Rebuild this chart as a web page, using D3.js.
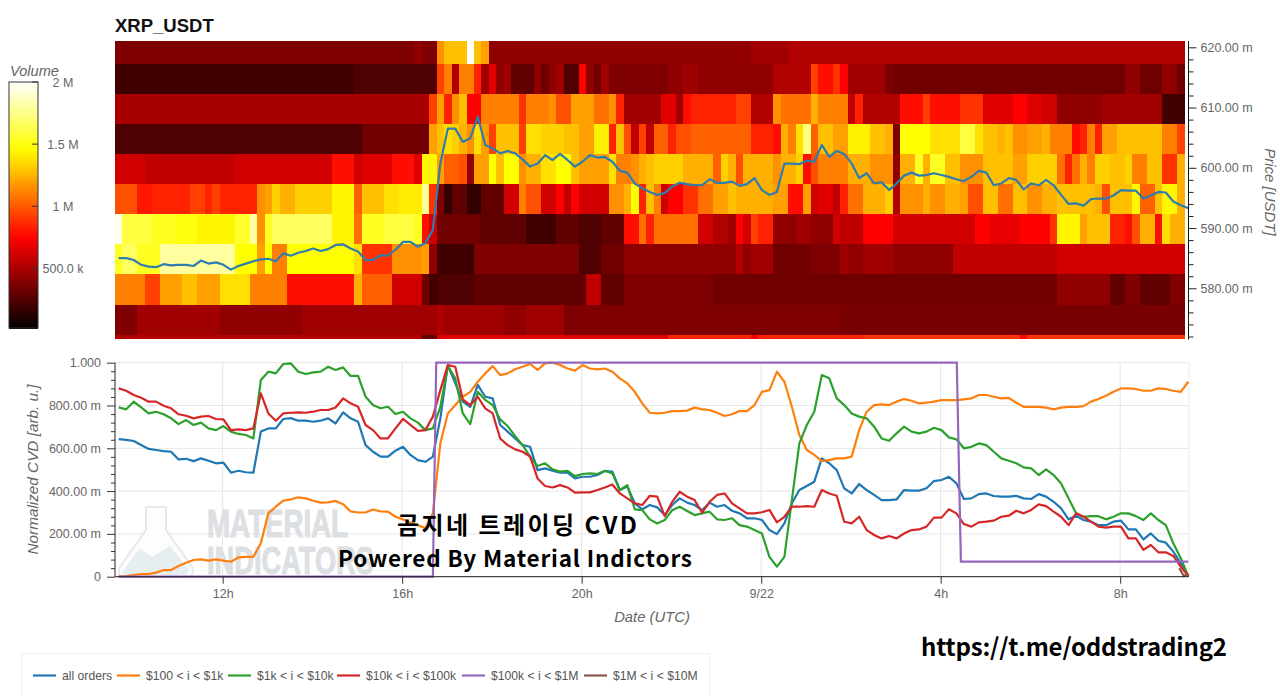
<!DOCTYPE html>
<html><head><meta charset="utf-8">
<script src="https://cdn.jsdelivr.net/npm/d3@7"></script>
<style>html,body{margin:0;padding:0;background:#fff;overflow:hidden}svg{display:block}text{font-family:"Liberation Sans",Arial,sans-serif}</style>
</head><body><svg id="c" width="1280" height="696"></svg>
<script>
const title = "XRP_USDT";
const binEdges = [571.6,572.3,577.3,582.3,587.3,592.3,597.3,602.3,607.3,612.3,617.3,621.05];
// volume runs per price bin, bottom to top: [first 10-min column, volume in thousands]
const vol_571 = [[0,519],[41,292],[43,654],[74,834],[85,743],[86,834],[100,879],[121,743],[122,879]];
const vol_572 = [[0,381],[3,473],[14,428],[25,473],[43,519],[44,473],[52,428],[55,473],[60,381],[97,360]];
const vol_577 = [[0,1104],[4,924],[6,1196],[9,1287],[11,1196],[14,1376],[18,1104],[23,788],[32,1242],[33,1014],[37,610],[41,337],[42,200],[43,247],[48,292],[63,564],[65,292],[68,381],[80,337],[126,428],[133,292],[135,381],[137,292],[141,381]];
const vol_582 = [[0,1532],[1,1663],[3,1532],[6,1800],[16,1465],[19,1196],[20,1465],[21,1104],[23,1465],[32,1376],[33,879],[37,1151],[41,1196],[42,428],[43,200],[48,381],[62,247],[65,337],[68,428],[83,519],[84,428],[85,473],[88,337],[93,381],[97,473],[98,428],[100,473],[104,428],[112,564],[126,610]];
const vol_587 = [[0,1950],[1,1599],[5,1532],[8,1500],[11,1440],[16,1560],[18,1800],[19,1151],[20,1532],[21,1663],[29,1440],[32,1061],[33,1532],[36,1599],[40,1532],[41,788],[42,610],[43,337],[49,292],[55,200],[59,292],[62,247],[65,292],[68,788],[70,1061],[71,834],[72,1061],[78,610],[80,519],[82,473],[83,743],[84,610],[85,924],[86,834],[88,428],[91,473],[93,428],[96,610],[97,564],[100,743],[104,610],[115,743],[117,680],[121,743],[125,879],[126,1440],[129,1196],[130,1287],[133,834],[135,788],[136,970],[137,1242],[139,788],[140,1376],[141,1242]];
const vol_592 = [[0,970],[3,800],[5,834],[10,924],[12,834],[13,924],[14,834],[19,1151],[20,1196],[21,1333],[22,1242],[24,1333],[29,1440],[32,1014],[33,1287],[36,1376],[38,1410],[41,1780],[42,879],[43,381],[44,156],[45,292],[47,156],[49,292],[52,610],[54,1104],[55,970],[57,610],[59,743],[60,564],[61,743],[62,610],[66,1151],[68,1242],[69,1465],[70,834],[71,1287],[72,1104],[73,610],[74,743],[76,879],[78,1061],[80,1196],[82,1287],[83,1242],[88,1196],[90,788],[92,1196],[93,610],[94,654],[96,564],[97,834],[98,1061],[100,1242],[103,1333],[104,519],[105,1151],[108,1242],[109,1151],[111,1242],[113,1196],[114,970],[116,1287],[118,1061],[120,1287],[122,1151],[124,1242],[126,1287],[131,1242],[132,970],[133,1287],[136,1440],[137,1014],[139,1287],[140,1440],[142,1242]];
const vol_597 = [[0,610],[4,564],[16,610],[29,788],[32,610],[33,654],[37,788],[40,654],[41,1440],[43,1196],[44,1014],[46,970],[47,428],[48,1196],[50,1465],[51,1287],[52,1465],[54,1151],[55,1242],[57,1376],[59,1465],[61,1287],[62,1196],[66,1376],[67,1104],[69,1151],[70,1242],[71,1287],[72,1333],[76,1242],[80,1014],[81,1333],[82,1242],[83,970],[84,1242],[88,1151],[89,1242],[91,1333],[92,788],[93,970],[94,1104],[98,1242],[101,1151],[104,428],[105,1242],[107,1532],[108,1242],[109,1532],[111,1287],[113,1151],[116,1287],[120,1196],[122,1333],[126,1061],[127,834],[128,1061],[129,1242],[130,1104],[131,1333],[133,1287],[135,1333],[136,1104],[138,1287],[140,879],[142,1242]];
const vol_602 = [[0,247],[33,337],[42,1196],[43,1287],[44,1376],[45,1333],[46,1242],[47,1151],[48,1376],[49,1196],[50,924],[51,1287],[54,924],[55,1376],[57,1333],[60,1287],[62,1196],[64,1422],[66,834],[67,1287],[68,970],[69,564],[70,924],[71,564],[72,1014],[74,834],[75,970],[77,1014],[85,834],[88,788],[89,1242],[90,1104],[91,1376],[92,1733],[93,1014],[94,1287],[96,1196],[98,1422],[101,1287],[103,1242],[104,381],[105,1465],[109,1376],[113,1599],[115,1376],[116,1287],[118,1242],[119,1287],[120,1151],[122,1196],[124,1242],[125,1104],[128,788],[129,834],[130,1104],[131,834],[132,1196],[134,1287],[140,1104],[142,924]];
const vol_607 = [[0,496],[42,924],[43,1196],[44,834],[45,1151],[46,1287],[47,743],[49,1104],[54,879],[55,1104],[58,1151],[59,970],[61,1196],[64,1061],[66,1151],[67,834],[68,473],[73,654],[75,473],[76,788],[77,834],[83,924],[85,519],[88,1151],[89,1061],[93,1242],[94,1104],[98,564],[99,834],[100,519],[105,788],[108,924],[109,788],[113,879],[116,654],[120,743],[122,654],[124,610],[126,428],[132,473],[140,200]];
const vol_612 = [[0,200],[32,247],[43,924],[44,1104],[45,519],[46,1104],[48,834],[49,473],[50,654],[51,428],[52,473],[53,292],[56,428],[57,337],[58,428],[59,473],[60,247],[62,743],[63,428],[64,337],[65,473],[66,381],[74,428],[76,473],[78,428],[88,519],[93,924],[94,788],[96,879],[97,743],[98,473],[103,381],[104,337],[135,428],[137,337],[140,428],[142,337]];
const vol_617 = [[0,381],[40,428],[41,381],[43,1151],[44,1287],[47,2000],[48,1287],[49,1196],[50,428],[85,473],[90,519]];
const volumeBins = [vol_571,vol_572,vol_577,vol_582,vol_587,vol_592,vol_597,vol_602,vol_607,vol_612,vol_617];
const columnCount = 143;

// price and normalized CVD, one reading per 10-minute column
const price = [585.0,585.0,584.7,583.9,583.6,583.5,584.0,583.8,583.9,583.9,583.7,584.6,584.1,584.3,583.9,583.1,583.7,584.1,584.5,584.8,584.9,584.5,585.8,585.4,585.9,586.2,586.6,586.2,586.5,587.2,587.3,586.6,586.1,584.7,584.7,585.5,585.4,586.4,587.7,587.7,586.9,587.5,589.7,600.7,606.5,606.5,604.3,604.9,608.5,603.8,603.2,602.4,602.8,602.4,601.4,600.2,600.7,602.1,601.3,602.3,601.3,600.2,601,602.1,601.7,601.8,601,599.5,599.2,597.4,596.6,596,595.5,595.8,596.9,597.5,597.3,597.1,597.1,598.1,597.5,597.5,597.7,597,597.3,598.3,596.3,595.5,596,600.7,600.7,600.6,601.2,601,603.8,601.8,602.8,602.3,600.7,598.3,599.1,597.4,597.6,596.3,597.4,598.7,599.2,598.7,598.8,599.1,598.8,598.5,598.1,597.8,598.5,599.5,599.2,597.1,597.4,598.3,598,596.4,597.4,597.1,598,597.1,595.5,594,594.1,593.7,594.8,594.9,594.9,595.4,596.3,596.2,596.2,594.9,595.4,596,595.9,594.4,593.8,593.3];
const cvd_all = [643,639,634,615,597,592,587,584,548,551,540,553,542,530,533,486,495,488,486,678,693,693,737,741,729,729,724,729,740,716,768,740,724,615,584,561,561,589,607,569,545,537,561,740,989,903,818,794,896,841,833,709,678,646,615,607,498,506,495,486,486,459,467,467,475,494,491,405,421,343,315,335,324,288,335,366,346,335,311,346,327,335,308,296,273,273,265,218,199,249,343,405,424,444,553,530,498,413,389,433,405,382,358,358,361,405,402,402,413,447,452,467,436,363,366,386,389,377,374,374,378,366,363,386,374,350,319,268,285,265,257,241,241,257,262,221,221,174,202,168,159,117,62,3];
const cvd_100_1k = [0,3,8,12,12,19,31,31,50,65,78,81,75,81,75,70,90,93,93,156,296,327,355,361,371,366,355,346,347,354,339,305,300,300,314,305,304,280,268,252,241,226,296,623,763,802,841,864,911,950,984,942,950,969,981,994,966,997,1000,989,973,963,989,973,969,973,958,927,903,864,810,766,763,766,774,774,776,790,782,779,766,751,759,774,774,802,864,872,958,911,794,662,592,569,540,545,553,553,561,685,771,802,805,802,818,830,822,810,813,818,825,825,825,829,833,849,849,841,833,836,813,794,794,794,790,782,790,794,794,797,818,830,846,864,880,880,877,869,869,880,877,869,864,911];
const cvd_1k_10k = [791,782,818,791,763,771,759,740,713,732,709,720,693,685,704,678,667,662,646,919,958,950,994,997,958,947,955,958,981,966,978,938,938,841,802,787,794,760,771,740,720,685,693,794,984,927,763,713,864,826,802,735,704,657,615,561,517,530,502,491,495,470,480,483,480,495,483,405,428,315,311,268,249,265,311,327,307,288,296,304,268,265,273,241,234,218,202,93,47,93,358,623,709,771,942,927,833,802,763,748,740,701,646,635,670,701,678,670,678,696,685,651,642,600,607,623,615,584,553,542,530,511,506,475,502,475,436,366,296,280,283,283,268,280,296,296,283,265,296,265,241,156,86,3];
const cvd_10k_100k = [880,869,849,836,818,818,799,787,759,752,740,748,751,737,735,685,688,685,693,857,763,729,763,766,768,766,771,779,779,791,833,810,794,709,685,646,646,693,737,709,681,685,748,872,989,981,829,802,841,787,763,646,615,595,584,561,459,424,417,428,417,393,394,394,405,417,431,389,366,343,335,378,374,283,350,397,374,358,299,350,382,389,343,319,296,296,301,312,254,280,327,327,330,327,405,389,378,257,249,280,218,195,179,190,179,202,218,221,234,276,276,315,296,246,234,254,257,262,280,285,308,296,312,338,330,304,280,241,296,280,257,234,229,234,234,179,179,125,148,114,114,97,47,3];
// the two stepwise series, as [column position, value] knots
const cvd_100k_1M = [[0,0],[42,0],[42.45,1000],[112.05,1000],[112.6,70],[143,70]];
const cvd_1M_10M = [[141.8,40],[142.4,3],[143,15]];

const seriesNames = ["all orders","$100 < i < $1k","$1k < i < $10k","$10k < i < $100k","$100k < i < $1M","$1M < i < $10M"];
const seriesColors = ["#1f77b4","#ff7f0e","#2ca02c","#d62728","#9467bd","#8c564b"];
const priceTicks = [580,590,600,610,620];
const cvdTicks = [0,200,400,600,800,1000];
const cvdTickLabels = ["0","200.00 m","400.00 m","600.00 m","800.00 m","1.000"];
const timeTickHours = [12,16,20,24,28,32];
const timeTickLabels = ["12h","16h","20h","9/22","4h","8h"];
const volumeTicks = [500,1000,1500,2000];
const volumeTickLabels = ["500.0 k","1 M","1.5 M","2 M"];

const svg = d3.select("#c");
const G = "#666";
const day = Date.UTC(2021,8,21);
const H = 3600e3;
const t0 = day + 9.6*H;
const x = d3.scaleUtc().domain([t0, t0 + (1189-115)/44.875*H]).range([115,1189]);
const colT = c => new Date(t0 + c*600e3);
const ptT = c => new Date(t0 + (c+0.5)*600e3);
const yP = d3.scaleLinear().domain([580,620]).range([288.3,47.3]);
const yC = d3.scaleLinear().domain([0,1000]).range([576.7,362.7]);
const yV = d3.scaleLinear().domain([20,2000]).range([328,82]);
const heat = d3.scaleLinear().domain([20,743,1465,2000]).range(["#000000","#ff0000","#ffff00","#ffffff"]).clamp(true);

const defs = svg.append("defs");
defs.append("filter").attr("id","soft").attr("x","-1%").attr("y","-1%").attr("width","102%").attr("height","102%")
  .append("feGaussianBlur").attr("stdDeviation",0.6);

// heatmap
const hm = svg.append("g").attr("filter","url(#soft)");
volumeBins.forEach((runs,b)=>{
  runs.forEach((r,i)=>{
    const end = i+1<runs.length ? runs[i+1][0] : columnCount;
    hm.append("rect").attr("shape-rendering","crispEdges")
      .attr("x",x(colT(r[0]))).attr("width",x(colT(end))-x(colT(r[0])))
      .attr("y",yP(binEdges[b+1])).attr("height",yP(binEdges[b])-yP(binEdges[b+1]))
      .attr("fill",heat(r[1]));
  });
});
// price line
const priceLine = d3.line().x((d,i)=>x(ptT(i))).y(d=>yP(d));
svg.append("path").attr("d",priceLine(price)).attr("fill","none").attr("stroke","#2f7cae").attr("stroke-width",2.2).attr("stroke-linejoin","round");

svg.append("text").text(title).attr("x",115).attr("y",32).attr("font-size",18.5).attr("font-weight","bold").attr("fill","#111");

// price axis
const pa = svg.append("g").attr("transform","translate(1188.5,0)");
const pAxis = d3.axisRight(yP).tickValues(d3.range(572,622,2)).tickSize(5).tickFormat(d=>priceTicks.includes(d)?d3.format(".2f")(d)+" m":"");
pa.call(pAxis);
pa.select(".domain").attr("d","M0,41V339.5").attr("stroke","#111");
pa.selectAll(".tick line").attr("stroke","#222").attr("x2",d=>priceTicks.includes(d)?8:5);
pa.selectAll("text").attr("x",12).attr("font-size",12.5).attr("fill",G).attr("font-family","Liberation Sans");
svg.append("text").text("Price [USDT]").attr("transform","translate(1265,192) rotate(90)").attr("text-anchor","middle").attr("font-size",15).attr("font-style","italic").attr("fill",G);

// colour bar
const cb = svg.append("g").attr("shape-rendering","crispEdges");
d3.range(20,2000,8).forEach(v=>{
  cb.append("rect").attr("x",9).attr("width",29).attr("y",yV(v+8)).attr("height",yV(v)-yV(v+8)+0.6).attr("fill",heat(v));
});
svg.append("rect").attr("x",9).attr("y",82).attr("width",29).attr("height",246).attr("fill","none").attr("stroke","#333").attr("stroke-width",1);
volumeTicks.forEach((v,i)=>{
  svg.append("line").attr("x1",32).attr("x2",38).attr("y1",yV(v)).attr("y2",yV(v)).attr("stroke","#333");
  svg.append("text").text(volumeTickLabels[i]).attr("x",63).attr("y",yV(v)+4.5).attr("text-anchor","middle").attr("font-size",12.5).attr("fill",G);
});
svg.append("text").text("Volume").attr("x",10).attr("y",76).attr("font-size",14.6).attr("font-style","italic").attr("fill",G);

// lower panel grid
const gr = svg.append("g").attr("stroke","#e6e6e6").attr("stroke-width",1);
cvdTicks.forEach(v=>gr.append("line").attr("x1",115).attr("x2",1189).attr("y1",yC(v)).attr("y2",yC(v)));
timeTickHours.forEach(h=>gr.append("line").attr("x1",x(day+h*H)).attr("x2",x(day+h*H)).attr("y1",362.7).attr("y2",576.7));
gr.append("line").attr("x1",1189).attr("x2",1189).attr("y1",362.7).attr("y2",576.7).attr("stroke","#ececec");

// watermark
const wm = svg.append("g");
wm.append("path").attr("d","M146,507H166V530L192,567Q195,577 186,577H125Q116,577 120,567L146,530Z").attr("fill","#fdfdfd").attr("stroke","#e6e8ea").attr("stroke-width",2);
wm.append("path").attr("d","M122,572L140,548L152,557L170,546L189,570Q188,575 184,575H127Q123,575 122,572Z").attr("fill","#e6eef1");
wm.append("text").text("MATERIAL").attr("x",207).attr("y",537).attr("font-size",38).attr("font-weight","bold").attr("fill","#dde0e3").attr("stroke","#dde0e3").attr("stroke-width",1.1).attr("textLength",141).attr("lengthAdjust","spacingAndGlyphs");
wm.append("text").text("INDICATORS").attr("x",207).attr("y",574).attr("font-size",38).attr("font-weight","bold").attr("fill","#dde0e3").attr("stroke","#dde0e3").attr("stroke-width",1.1).attr("textLength",167).attr("lengthAdjust","spacingAndGlyphs");

// CVD lines
const cl = d3.line().x((d,i)=>x(ptT(i))).y(d=>yC(d));
const knot = d3.line().x(d=>x(ptT(d[0]))).y(d=>yC(d[1]));
[cvd_all,cvd_100_1k,cvd_1k_10k,cvd_10k_100k].forEach((s,i)=>{
  svg.append("path").attr("d",cl(s)).attr("fill","none").attr("stroke",seriesColors[i]).attr("stroke-width",2.2).attr("stroke-linejoin","round");
});
svg.append("path").attr("d",knot(cvd_100k_1M)).attr("fill","none").attr("stroke",seriesColors[4]).attr("stroke-width",2.2);
svg.append("path").attr("d",knot(cvd_1M_10M)).attr("fill","none").attr("stroke",seriesColors[5]).attr("stroke-width",2.2);

// CVD axes
const la = svg.append("g").attr("transform","translate(115,0)");
la.call(d3.axisLeft(yC).tickValues(d3.range(0,1001,40)).tickSize(4).tickFormat(d=>{const k=cvdTicks.indexOf(d);return k>=0?cvdTickLabels[k]:"";}));
la.select(".domain").attr("d","M0,362.7V576.7").attr("stroke","#222");
la.selectAll(".tick line").attr("stroke","#333").attr("x2",d=>cvdTicks.includes(d)?-8:-4);
la.selectAll("text").attr("x",-14).attr("font-size",12.5).attr("fill",G).attr("font-family","Liberation Sans");
const ba = svg.append("g").attr("transform","translate(0,576.7)");
ba.call(d3.axisBottom(x).tickValues(timeTickHours.map(h=>new Date(day+h*H))).tickSize(7).tickFormat((d,i)=>timeTickLabels[i]));
ba.select(".domain").attr("d","M115,0H1189").attr("stroke","#222");
ba.selectAll(".tick line").attr("stroke","#333");
ba.selectAll("text").attr("y",12).attr("font-size",12.5).attr("fill",G).attr("font-family","Liberation Sans");
svg.append("text").text("Date (UTC)").attr("x",652).attr("y",622).attr("text-anchor","middle").attr("font-size",14.8).attr("font-style","italic").attr("fill",G);
svg.append("text").text("Normalized CVD [arb. u.]").attr("transform","translate(38,469.5) rotate(-90)").attr("text-anchor","middle").attr("font-size",15.3).attr("font-style","italic").attr("fill",G);

// legend
svg.append("rect").attr("x",21.5).attr("y",653.5).attr("width",688).attr("height",60).attr("fill","#fff").attr("stroke","#f0f0f0");
const legendSwatchX = [33,117,228,337,462,584];
seriesNames.forEach((n,i)=>{
  const lx = legendSwatchX[i];
  svg.append("line").attr("x1",lx).attr("x2",lx+23).attr("y1",675.5).attr("y2",675.5).attr("stroke",seriesColors[i]).attr("stroke-width",2.2);
  svg.append("text").text(n).attr("x",lx+29).attr("y",679.5).attr("font-size",12.2).attr("fill","#555");
});

// overlay captions
const K = '"Noto Sans CJK KR","Noto Sans",sans-serif';
svg.append("text").text("곰지네 트레이딩 CVD").attr("x",397).attr("y",534).attr("font-size",24).attr("font-weight","bold").attr("style","font-family:"+K).attr("fill","#000").attr("textLength",240);
svg.append("text").text("Powered By Material Indictors").attr("x",338).attr("y",567).attr("font-size",22.5).attr("font-weight","bold").attr("style","font-family:"+K).attr("fill","#000").attr("textLength",354);
svg.append("text").text("https://t.me/oddstrading2").attr("x",921).attr("y",656).attr("font-size",24).attr("font-weight","bold").attr("style","font-family:"+K).attr("fill","#000").attr("textLength",306);
</script></body></html>
